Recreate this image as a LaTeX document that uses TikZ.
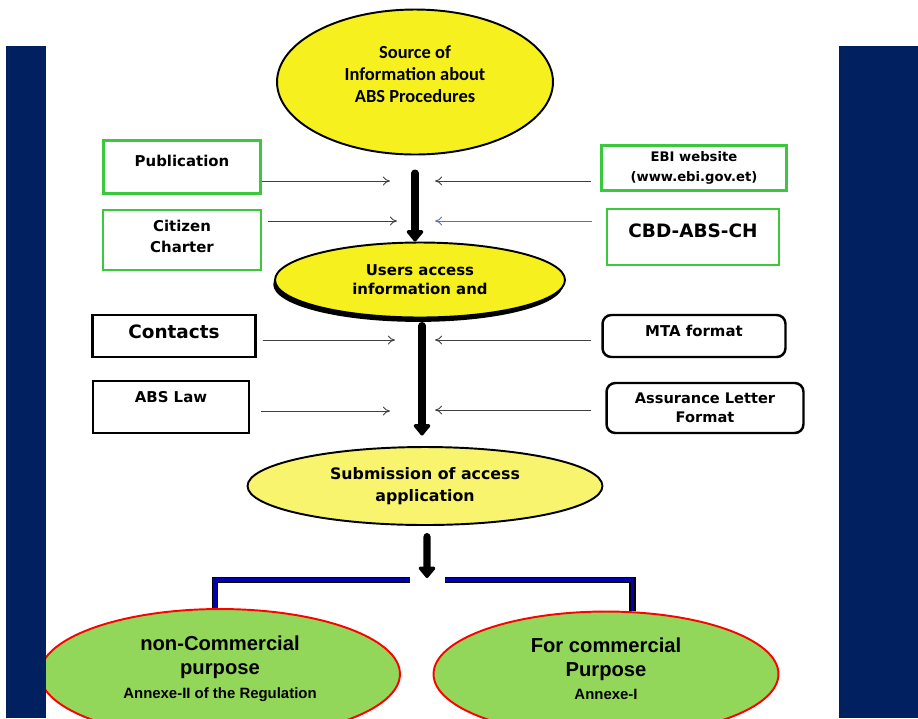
\documentclass[tikz,border=0pt]{standalone}
\usepackage{fontspec}
\setmainfont{DejaVu Sans}
\newfontfamily\calfont{Carlito}
\newfontfamily\arfont{Liberation Sans}
\usepackage{xcolor}
\usepackage{tikz}
\usetikzlibrary{shapes,arrows.meta,positioning,shadows}

\definecolor{navy}{RGB}{0,32,96}
\definecolor{boxgreen}{RGB}{60,200,60}
\definecolor{leafgreen}{RGB}{146,215,90}
\definecolor{sunyellow}{RGB}{245,240,30}
\definecolor{paleyellow}{RGB}{248,244,110}
\definecolor{linkblue}{RGB}{90,110,200}

\newcommand{\fsz}[2]{\fontsize{#1}{#2}\selectfont}

\begin{document}
\begin{tikzpicture}[x=0.02cm, y=-0.02cm,
    oval/.style={ellipse, draw=black, line width=1.1pt, fill=sunyellow, inner sep=0pt, align=center, font=\bfseries},
    gbox/.style={rectangle, draw=boxgreen, line width=1.6pt, fill=white, inner sep=0pt, align=center, font=\bfseries},
    kbox/.style={rectangle, draw=black, line width=1.4pt, fill=white, inner sep=0pt, align=center, font=\bfseries},
    rbox/.style={kbox, rounded corners=5pt},
    purpose/.style={ellipse, draw=red, line width=1.1pt, fill=leafgreen, inner sep=0pt, align=center, font=\arfont\bfseries},
    lift/.style={text depth=#1},
    line/.style={draw, -{To[length=4pt,width=5pt]}, line width=0.5pt, color=black!75},
    flow/.style={draw, line width=4pt, -{Triangle[length=7pt,width=11pt,round]}, line cap=round},
    bracket/.style={draw=black, line width=0.8pt, double=blue!70!black, double distance=2pt}
]
    \useasboundingbox (0,0) rectangle (918,718);
    \clip (0,0) rectangle (918,718);
    \fill[white] (0,0) rectangle (918,718);

    % Main chain
    \node [oval, minimum width=5.52cm, minimum height=2.9cm, lift=9pt,
           font=\calfont\bfseries\fsz{10.5}{12.3}] (source) at (415,82)
           {Source of\\Information about\\ABS Procedures};
    \node [oval, minimum width=5.8cm, minimum height=1.5cm, font=\bfseries\fsz{8.5}{10.8},
           drop shadow={shadow xshift=-1pt, shadow yshift=-2.5pt, fill=black, opacity=1}] (users) at (420,280)
           {Users access\\information and};
    \node [oval, fill=paleyellow, minimum width=7.1cm, minimum height=1.56cm,
           font=\bfseries\fsz{9}{12.5}] (submit) at (425,486)
           {Submission of access\\application};

    % Sources on the left
    \node [gbox, minimum width=3.14cm, minimum height=1.06cm, lift=7pt, font=\bfseries\fsz{8.5}{10}] (pub) at (182,167) {Publication};
    \node [gbox, minimum width=3.16cm, minimum height=1.2cm, lift=4pt, font=\bfseries\fsz{8.5}{12}] (citizen) at (182,240) {Citizen\\Charter};
    \node [kbox, minimum width=3.26cm, minimum height=0.84cm, lift=5.5pt, font=\bfseries\fsz{10.5}{12}] (contacts) at (174,336) {Contacts};
    \node [kbox, minimum width=3.12cm, minimum height=1.04cm, lift=11pt, font=\bfseries\fsz{8.5}{10}] (law) at (171,407) {ABS Law};

    % Sources on the right
    \node [gbox, minimum width=3.7cm, minimum height=0.9cm, font=\bfseries\fsz{7.5}{11.3}] (ebi) at (694,168) {EBI website\\(www.ebi.gov.et)};
    \node [gbox, minimum width=3.44cm, minimum height=1.12cm, lift=7pt, font=\bfseries\fsz{10.5}{12}] (cbd) at (693,237) {CBD-ABS-CH};
    \node [rbox, minimum width=3.66cm, minimum height=0.84cm, lift=5.5pt, font=\bfseries\fsz{8.5}{10}] (mta) at (694,336) {MTA format};
    \node [rbox, minimum width=3.94cm, minimum height=1.0cm, font=\bfseries\fsz{8.3}{10.8}] (assure) at (705,408) {Assurance Letter\\Format};

    % Purposes
    \node [purpose, minimum width=7.2cm, minimum height=2.6cm, lift=8pt, font=\arfont\bfseries\fsz{11.5}{13.6}] (noncom) at (220,674)
          {non-Commercial\\purpose\\{\fsz{8.5}{10}Annexe-II of the Regulation}};
    \node [purpose, minimum width=6.9cm, minimum height=2.5cm, lift=6pt, font=\arfont\bfseries\fsz{11.5}{13.6}] (com) at (606,674)
          {For commercial\\Purpose\\{\fsz{8.5}{10}Annexe-I}};

    % Side bars
    \fill[navy] (6,46) rectangle (46,718);
    \fill[navy] (839,46) rectangle (918,718);

    % Entry points on the main arrows
    \coordinate (pubin) at (390,181);
    \coordinate (citin) at (397,221);
    \coordinate (ebiin) at (435,181);
    \coordinate (cbdin) at (435,221);
    \coordinate (conin) at (395,340);
    \coordinate (lawin) at (390,411);
    \coordinate (mtain) at (435,340);
    \coordinate (assin) at (435,410);
    \coordinate (split) at (427,578);
    \coordinate (lsplit) at (410,580);
    \coordinate (rsplit) at (445,580);

    % Main flow
    \path [flow, shorten <=10pt] (source.south) -- (source.south |- users.north);
    \path [flow, shorten <=4pt, shorten >=6pt] ([xshift=0.04cm]users.south) -- ([xshift=0.04cm]users.south |- submit.north);
    \path [flow, shorten <=6pt] ([xshift=0.04cm]submit.south) -- (split);

    % Routing into the flow
    \path [line] (pub.east |- pubin) -- (pubin);
    \path [line, shorten <=0.12cm] (citizen.east |- citin) -- (citin);
    \path [line, shorten <=0.18cm] (ebi.west |- ebiin) -- (ebiin);
    \path [line, color=linkblue, shorten <=0.28cm] (cbd.west |- cbdin) -- (cbdin);
    \path [line, shorten <=0.12cm] (contacts.east |- conin) -- (conin);
    \path [line, shorten <=0.22cm] (law.east |- lawin) -- (lawin);
    \path [line, shorten <=0.2cm] (mta.west |- mtain) -- (mtain);
    \path [line, shorten <=0.28cm] (assure.west |- assin) -- (assin);

    % Split into purposes
    \draw [bracket] (lsplit) -| ([xshift=-0.1cm]noncom.north);
    \draw [bracket] (rsplit) -| (com.67);
\end{tikzpicture}
\end{document}
